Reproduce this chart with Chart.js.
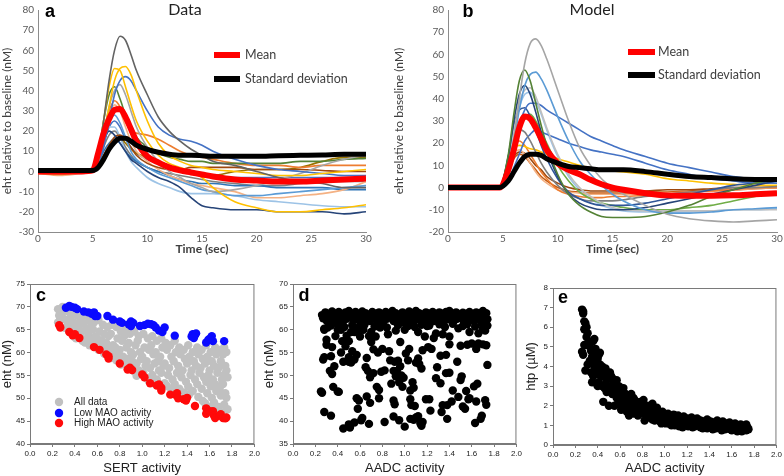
<!DOCTYPE html>
<html>
<head>
<meta charset="utf-8">
<script src="https://cdn.jsdelivr.net/npm/chart.js@4.4.1/dist/chart.umd.min.js"></script>
<style>
body { margin: 0; background: #fff; width: 784px; height: 476px; position: relative; overflow: hidden; }
canvas { position: absolute; }
</style>
</head>
<body>
<canvas id="pa" width="392" height="256" style="left:0;top:0"></canvas>
<canvas id="pb" width="392" height="256" style="left:392px;top:0"></canvas>
<canvas id="pc" width="262" height="214" style="left:0;top:262px"></canvas>
<canvas id="pd" width="262" height="214" style="left:262px;top:262px"></canvas>
<canvas id="pe" width="260" height="214" style="left:524px;top:262px"></canvas>
<script>
// ---- panel a: measured traces (time in sec, eht in nM) ----
var timeA = [0,2,4,5,5.5,6,6.5,7,7.5,8,8.5,9,10,11,12,13,14,15,16,18,20,22,24,26,28,30];
var meanA = [0,0,0,0.5, 9,19,26,30.5,31,27,21,15, 7.5,4.5,2,0.5,-0.5,-1.5,-2.5, -4,-4.5,-5,-5,-4.5,-4,-3.5];
var stdA  = [0.5,0.5,0.5,0.5, 2,6,11,14.5,16.5,16.5,15,13, 11,9.5,8.5,8,8,7.8,7.5, 7.5,7.5,7.8,8,8.2,8.5,8.5];
var tracesA = [
  [0.5,0,0.5,0, 8,25,45,60,67,65,58,50, 38,27,20,15,11,8,5, 3,0,-3,-5,-6,-8,-8],
  [0,-0.5,0,0, 8,25,42,51,50,42,33,25, 15,8,4,2,0,-3,-8, -15,-18,-20,-20,-19,-18,-16.5],
  [0,0,0.5,0, 5,18,32,45,51,52,48,40, 25,14,8,5,3,2,1, 0,-1,-2,-2,-1,0,1],
  [0.5,0.5,0,0, 4,12,25,38,45,47,45,40, 30,22,18,16,15,13,10, 6,3,1,0,-1,-2,-2],
  [0,0.5,0,0, 5,18,32,40,43,38,30,22, 12,5,0,-3,-6,-8,-10, -9,-7,-4,-1,3,6,8],
  [0,0,0,0, 8,25,38,42,36,28,22,17, 12,9,7,6,5,5,4, 4,4,4,5,5,6,6.5],
  [-1,-1.5,-0.5,0, 6,20,30,35,32,25,20,19, 18,16,13,10,8,7,6, 4,3,3,2,3,3,3],
  [0,0,-0.5,0, 5,15,24,28,24,17,10,6, 2,-1,-3,-5,-7,-9,-10, -12,-12,-11,-10,-9,-8,-7],
  [1,0.5,0,0, 6,15,20,18,14,10,6,4, 0,-3,-5,-8,-13,-17,-18, -19,-19,-20,-20,-20,-21,-20],
  [0,0,0,0, 3,8,13,17,18,16,12,8, 4,2,1,1,2,2,2, 2,1,1,1,0.5,0,0],
  [-1,-2,-1,0, 5,18,28,33,30,22,15,10, 5,1,-2,-4,-6,-7,-8, -10,-13,-13,-12,-11,-9,-5],
  [0,0,0,0, 6,16,22,22,17,10,5,2, -3,-6,-8,-10,-11,-11,-11, -12,-14,-15,-16,-17,-17.5,-17.5],
  [1,0.5,0.5,0, 4,10,14,16,14,10,7,5, 2,0,-2,-4,-5,-6,-6, -7,-7,-8,-8,-8,-9,-9],
  [0,0,0,0, 3,8,12,15,17,14,11,9, 7,5,3,0,-1,-2,-2, 0,1,1,2,5,7,7],
  [0,0,0,0, 4,12,18,20,17,12,8,5, 2,0,-1,-2,-3,-4,-5, -6,-7,-7,-6,-5,-5,-5],
  [0,0,0,0, 5,14,22,25,22,16,12,9, 6,4,2,1,0,-1,-2, -3,-3,-3,-3,-3,-3,-3]
];
var colorsA = ['#636363','#ffc000','#ffc000','#4472c4','#a5a5a5','#548235','#ed7d31','#5b9bd5',
               '#264478','#9e480e','#f4b183','#9dc3e6','#2e75b6','#997300','#7f7f7f','#4472c4'];

// ---- panel b: model traces ----
var timeB = [0,2,4,4.7,5.5,6,6.5,7,7.5,8,8.5,9,10,11,12,13,14,15,16,18,20,22,24,26,28,30];
var meanB = [0,0,0,0, 8,17,27,32,31,27,22,17, 11,8,6,3.5,1.5,0,-1, -2.5,-3.5,-3.7,-3.7,-3.5,-3,-2.5];
var stdB  = [0,0,0,0, 3,7,11,14,15,15,14.5,13, 11,9.5,9,8.5,8,8,8, 7.2,6,5,4.5,4,3.7,3.6];
var tracesB = [
  [0,0,0,0, 8,22,40,56,65,67,64,58, 44,30,18,10,4,0,-3, -8,-12,-14,-15,-15.5,-15,-14.5],
  [0,0,0,0, 15,33,48,53,48,38,28,19, 6,-3,-8,-11,-13,-13.5,-13.5, -13,-11,-8,-4,-1,2,4],
  [0,0,0,0, 7,20,35,46,51,52,49,44, 32,21,12,6,1,-3,-6, -10,-11.5,-11.5,-11,-10,-9.5,-9],
  [0,0,0,0, 14,30,42,46,42,34,25,17, 5,-3,-7,-9,-10,-10,-10, -9,-7,-5,-3,-1,1,3],
  [0,0,0,0, 10,25,38,44,45,41,34,27, 15,6,0,-4,-7,-9,-10, -10.5,-10.5,-10.5,-10.5,-10,-10,-10],
  [0,0,0,0, 6,17,28,35,38,38,37,35, 32,29,26,23,21,19,17, 14,11,9,7,5,4,3],
  [0,0,0,0, 14,28,35,36,32,26,19,13, 4,-2,-5,-7,-8,-8,-8, -7,-5,-3,-1,1,2,3],
  [0,0,0,0, 7,18,27,32,33,30,25,20, 10,3,-2,-5,-7,-8,-9, -10,-10,-9,-8,-6,-4,-2],
  [0,0,0,0, 12,22,26,25,21,16,11,7, 1,-3,-5,-6,-6,-6,-5.5, -4,-3,-2,-1,0,0,0.5],
  [0,0,0,0, 3,9,15,21,24,26,25,24, 22,20,18.5,17,16,15,14, 11,8,6,4,3,2,2],
  [0,0,0,0, 12,18,19,18.5,17.5,17,16,15, 13,11.5,10,9,8,7.5,7, 6,4,3,2,1.5,1,1],
  [0,0,0,0, 10,18,21,19,15,11,7,4, -1,-3,-4,-4.5,-4.5,-4,-4, -3.5,-3,-2,-1.5,-1,0,0],
  [0,0,0,0, 11,16,17,15,11,7,4,2, -1,-2,-2.5,-3,-3,-3,-3, -3,-2.5,-2,-1.5,-1,-0.5,0],
  [0,0,0,0, 9,14,16,15.5,13,10,8,5, 2,0,-1,-1.5,-1.5,-1.5,-1.5, -1.5,-1,-1,-0.5,0,0,0.5],
  [0,0,0,0, 9,25,36,42,43,39,33,26, 14,5,-1,-5,-8,-9.5,-10.5, -11,-11,-11,-10.5,-10,-10,-9.5],
  [0,0,0,0, 8,13,15,14,11,8,5,3, 0,-1.5,-2,-2.5,-2.5,-2.5,-2.5, -2,-2,-1.5,-1,-1,-0.5,0]
];
var colorsB = ['#a5a5a5','#548235','#5b9bd5','#264478','#bfbfbf','#4472c4','#2f5597','#70ad47',
               '#7f7f7f','#4472c4','#ffc000','#ed7d31','#f4b183','#9e480e','#9dc3e6','#c55a11'];

// ---- panel c: SERT activity vs eht ----
var cLowMao = [[0.32,69.8],[0.35,70.2],[0.37,70],[0.4,69.8],[0.42,69.5],[0.48,69],[0.52,68.8],[0.55,68.5],
  [0.57,68.8],[0.58,68],[0.6,68],[0.69,68],[0.74,67.2],[0.8,66.8],[0.82,66.5],[0.88,66.2],[0.9,66.8],
  [0.92,66.5],[0.9,65.8],[0.98,65.8],[1.02,66],[1.05,66.3],[1.08,66.2],[1.1,66],[1.12,65.5],[1.15,64.8],
  [1.18,64.5],[1.2,65.5],[1.29,63.7],[1.44,63.5],[1.45,64],[1.47,63.8],[1.48,64.2],[1.46,63.2],[1.57,62.2],
  [1.59,62.8],[1.62,63.6],[1.63,62.5],[1.6,63],[1.73,62.5]];
var cHighMao = [[0.26,66],[0.27,65.5],[0.35,64.5],[0.38,63.8],[0.4,64],[0.44,63.2],[0.57,61.2],[0.62,60.6],
  [0.68,59.6],[0.7,59.2],[0.7,58.7],[0.8,57.6],[0.87,56.3],[0.89,56.7],[0.91,56.2],[1.0,55.2],[1.02,54.6],
  [1.07,53.3],[1.13,52.8],[1.15,53],[1.17,52.3],[1.17,51.7],[1.25,50.8],[1.3,50.7],[1.31,51.1],[1.32,50],
  [1.37,49.8],[1.39,49.5],[1.4,50.1],[1.47,48.3],[1.57,47.8],[1.57,46.6],[1.6,47.2],[1.63,47.2],[1.64,46.2],
  [1.65,45.7],[1.69,46.2],[1.7,46.5],[1.72,45.7],[1.74,45.6],[1.75,45.8]];
var cAll = [[0.25,69.5],[0.26,68.1],[0.27,67.2],[0.25,66.6],[0.29,70],[0.28,68.7],[0.3,67.4],[0.31,65.4],
  [0.33,69.1],[0.32,67.1],[0.34,66.2],[0.35,64.6],[0.37,68.6],[0.36,67.6],[0.38,66.1],[0.37,65.1],[0.39,63.5],
  [0.41,68.2],[0.4,66.5],[0.42,65.6],[0.43,64.1],[0.41,63.1],[0.45,67.6],[0.44,66.1],[0.46,64.6],[0.45,63.6],
  [0.47,62.5],[0.49,68.1],[0.48,66.4],[0.5,65.1],[0.51,63.1],[0.49,62.2],[0.53,67.1],[0.54,65.6],[0.52,64.1],
  [0.55,62.6],[0.53,61.6],[0.57,66.6],[0.56,65.1],[0.58,63.5],[0.59,62.1],[0.57,61.3],[0.61,67.1],[0.62,64.6],
  [0.6,63.1],[0.63,61.6],[0.61,60.6],[0.65,66.1],[0.66,64.1],[0.64,62.6],[0.67,61.1],[0.66,59.8],[0.69,65.6],
  [0.7,63.6],[0.68,62.1],[0.71,60.6],[0.73,66.1],[0.72,64.1],[0.74,61.6],[0.75,60.1],[0.73,58.8],[0.77,65.6],
  [0.78,63.1],[0.76,61.1],[0.79,59.6],[0.77,58.3],[0.81,64.6],[0.82,62.6],[0.8,60.6],[0.83,59.1],[0.81,57.4],
  [0.85,65.1],[0.84,63.6],[0.86,61.1],[0.87,58.6],[0.85,57.6],[0.89,64.1],[0.88,62.1],[0.9,60.1],[0.91,58.1],
  [0.89,56.9],[0.93,64.6],[0.94,61.6],[0.92,59.6],[0.95,57.6],[0.93,55.9],[0.97,63.6],[0.96,62.6],[0.98,60.1],
  [0.99,58.6],[0.97,56.1],[0.95,54.9],[1.01,64.1],[1.02,61.1],[1.0,59.1],[1.03,57.1],[1.01,55.6],[1.04,54.3],
  [1.05,63.1],[1.06,60.6],[1.04,58.1],[1.07,56.6],[1.06,53.8],[1.09,63.6],[1.08,61.6],[1.1,59.6],[1.11,57.6],
  [1.09,55.1],[1.1,53.3],[1.13,62.6],[1.12,60.1],[1.14,58.1],[1.15,56.1],[1.13,54.1],[1.17,63.1],[1.18,61.1],
  [1.16,59.1],[1.19,57.1],[1.17,55.6],[1.2,53.3],[1.21,62.1],[1.22,60.6],[1.2,57.6],[1.23,55.1],[1.22,52.7],
  [1.25,61.6],[1.26,59.1],[1.24,56.6],[1.27,54.1],[1.26,51.8],[1.29,62.6],[1.3,60.1],[1.28,58.1],[1.31,55.6],
  [1.29,53.1],[1.3,51.6],[1.33,61.1],[1.34,59.6],[1.32,57.1],[1.35,54.6],[1.33,52.1],[1.37,60.6],[1.38,58.6],
  [1.36,56.1],[1.39,53.6],[1.37,51.3],[1.41,61.6],[1.42,59.1],[1.4,57.6],[1.43,55.1],[1.41,52.6],[1.42,50.9],
  [1.45,60.1],[1.46,58.1],[1.44,56.1],[1.47,54.1],[1.45,51.6],[1.49,61.1],[1.5,59.6],[1.48,57.1],[1.51,55.6],
  [1.49,53.1],[1.5,50.3],[1.53,60.6],[1.54,58.6],[1.52,56.6],[1.55,54.6],[1.53,52.1],[1.54,49.4],[1.57,61.6],
  [1.58,59.1],[1.56,57.6],[1.59,55.1],[1.57,53.6],[1.58,51.1],[1.56,48.9],[1.61,60.1],[1.62,58.1],[1.6,56.1],
  [1.63,54.1],[1.61,52.6],[1.62,50.1],[1.6,48.1],[1.65,61.1],[1.66,59.6],[1.64,57.1],[1.67,55.6],[1.65,53.1],
  [1.66,51.6],[1.64,49.1],[1.65,47.6],[1.69,60.6],[1.7,58.1],[1.68,56.6],[1.71,54.1],[1.69,52.1],[1.7,50.6],
  [1.68,48.1],[1.73,61.1],[1.72,59.6],[1.74,57.1],[1.73,55.1],[1.72,53.1],[1.74,51.1],[1.73,48.6],[1.72,46.9],
  [1.75,60.1],[1.75,56.1],[1.76,54.6],[1.75,50.1],[1.76,47.6]];

// ---- panel d: AADC activity vs eht ----
var dPoints = [
  [0.26,63.2],[0.29,63.8],[0.32,63.4],[0.35,64],[0.38,63.5],[0.41,63.9],[0.44,63.3],[0.47,63.8],[0.5,64.1],
  [0.53,63.5],[0.56,63.9],[0.59,63.4],[0.62,64],[0.65,63.6],[0.68,63.2],[0.71,63.9],[0.74,63.5],[0.77,63.8],
  [0.8,63.3],[0.83,63.9],[0.86,63.5],[0.89,64.1],[0.92,63.6],[0.95,63.2],[0.98,63.8],[1.01,63.4],[1.04,64],
  [1.07,63.5],[1.1,64.1],[1.13,63.6],[1.16,63.2],[1.19,63.8],[1.22,63.5],[1.25,63.9],[1.28,63.3],[1.31,63.8],
  [1.34,63.5],[1.37,63.9],[1.4,64.1],[1.43,63.4],[1.46,63.8],[1.49,63.3],[1.52,63.7],[1.55,63.5],[1.58,63.9],
  [1.61,63.4],[1.64,63.8],[1.67,63.3],[1.7,64.1],[1.73,63.6],
  [0.27,62.5],[0.3,62],[0.33,62.6],[0.36,61.8],[0.39,62.3],[0.42,62.8],[0.45,61.9],[0.48,62.4],[0.51,62.9],
  [0.54,62.1],[0.57,62.6],[0.6,61.7],[0.63,62.4],[0.66,62.8],[0.69,61.9],[0.72,62.5],[0.75,62.1],[0.78,62.7],
  [0.81,61.8],[0.84,62.4],[0.87,62.8],[0.9,61.9],[0.93,62.3],[0.96,62.7],[0.99,61.6],[1.02,62.2],[1.05,62.6],
  [1.08,61.8],[1.11,62.3],[1.14,62.7],[1.17,61.7],[1.2,62.2],[1.23,62.6],[1.26,61.9],[1.29,62.4],[1.32,62.8],
  [1.35,61.8],[1.38,62.3],[1.41,62.7],[1.44,61.9],[1.47,62.4],[1.5,62.8],[1.53,61.8],[1.56,62.3],[1.59,62.6],
  [1.62,61.9],[1.65,62.4],[1.68,62.8],[1.71,61.8],[1.74,62.3],
  [0.28,60.2],[0.34,60.9],[0.4,61.2],[0.46,60.6],[0.53,61],[0.58,60.4],[0.64,61.1],[0.73,60.7],[0.79,61.3],
  [0.84,60.5],[0.94,61],[1.03,60.8],[1.06,61.4],[1.09,60.6],[1.15,61.1],[1.22,60.9],[1.31,61.2],[1.36,60.6],
  [1.43,61.3],[1.52,60.8],[1.56,61.2],[1.63,60.7],[1.69,61.4],[1.74,60.9],
  [0.31,60.5],[0.43,60],[0.52,59.5],[0.63,60],[0.7,59.5],[0.78,60.5],[0.85,59],[0.92,59.8],[1.0,60],
  [1.12,59.5],[1.2,60.8],[1.28,59.2],[1.34,59],[1.4,58.5],[1.48,60.3],[1.58,59.5],[1.66,59.2],[1.7,60.2],
  [0.25,46.5],[0.26,46.2],[0.28,42],[0.34,41.2],[0.27,53.5],[0.28,54],[0.3,57.8],[0.3,56.7],[0.28,60],
  [0.33,51],[0.35,50.3],[0.34,54.2],[0.35,56.2],[0.37,52],[0.36,47.5],[0.4,46.5],[0.41,46.4],
  [0.38,58.6],[0.4,60],[0.43,55],[0.44,57.5],[0.45,53],[0.47,56.4],[0.48,58.7],[0.5,57.5],[0.5,53],
  [0.52,52.8],[0.53,55.3],[0.5,54],[0.55,53.5],[0.57,54.5],[0.55,59.5],[0.58,60],[0.6,58.5],
  [0.45,38.4],[0.5,39.3],[0.51,38.6],[0.55,39.7],[0.58,42.7],[0.57,45],[0.59,44.5],[0.62,40.7],[0.61,40.2],
  [0.66,45.4],[0.68,39.4],[0.69,44],[0.65,51.8],[0.66,53.8],[0.67,51],[0.69,49.6],[0.72,50.5],[0.72,55.7],
  [0.7,57.3],[0.68,58.6],[0.74,58.5],[0.75,47.5],[0.77,46.8],[0.77,45],[0.79,50.8],[0.76,55],[0.8,55.8],
  [0.82,51.1],[0.82,39.8],[0.86,55.3],[0.87,53.3],[0.88,48.2],[0.9,51],[0.91,53],[0.9,44.5],[0.91,43.7],
  [0.9,41],[0.92,49.8],[0.93,51],[0.94,53.2],[0.95,48.5],[0.97,50],[0.96,52],[0.98,47.5],[0.99,49.5],
  [0.95,40.2],[1.0,38.8],[0.96,57.3],[1.01,54.8],[1.03,53.3],[1.04,55.8],[1.05,44.8],[1.06,43.5],[1.05,46.7],
  [1.07,48.5],[1.08,47.3],[1.09,43.3],[1.05,40.5],[1.08,40.3],[1.1,40.8],[1.12,41.1],[1.14,39.5],[1.15,39],
  [1.16,39.8],[1.1,52.8],[1.12,53.7],[1.13,52.5],[1.15,51.5],[1.16,55.5],[1.18,58.5],[1.19,44.8],[1.22,44.8],
  [1.23,42.3],[1.21,56.2],[1.24,55.8],[1.26,58.2],[1.28,49.4],[1.29,51.8],[1.32,48.3],[1.32,54.3],[1.33,42],
  [1.34,43.5],[1.37,50.5],[1.37,54.5],[1.38,40.5],[1.38,43.5],[1.4,50.6],[1.4,56.8],[1.42,44.3],[1.43,46.7],
  [1.47,53],[1.48,45.3],[1.5,49],[1.5,56.5],[1.51,49.8],[1.52,43.2],[1.54,42.7],[1.55,46.6],[1.56,56.7],
  [1.57,44.8],[1.58,45],[1.6,57],[1.62,47.6],[1.63,39.6],[1.64,44.3],[1.65,48.2],[1.64,55.8],[1.66,57],
  [1.68,40.5],[1.69,41.2],[1.7,56.8],[1.72,44.6],[1.73,43.6],[1.73,56.6],[1.74,52.3],[1.72,59.8]];

// ---- panel e: AADC activity vs htp ----
var ePoints = [[0.26,6.9],[0.27,6.8],[0.27,6.7],[0.28,6.3],[0.29,6.2],[0.28,5.9],[0.3,5.5],[0.26,4.75],
  [0.27,4.6],[0.28,5.1],[0.3,5.1],[0.32,5.2],[0.33,5.0],[0.29,3.8],[0.31,4.1],[0.33,4.3],[0.34,3.7],[0.35,3.2],
  [0.36,3.5],[0.37,5.4],[0.36,5.3],[0.38,4.9],[0.39,4.7],[0.4,4.4],[0.41,4.6],[0.42,4.1],[0.4,3.0],[0.41,3.2],
  [0.43,3.8],[0.44,4.0],[0.45,2.2],[0.46,3.5],[0.47,3.9],[0.48,3.3],[0.49,3.6],[0.5,2.0],[0.51,3.7],[0.52,3.0],
  [0.53,3.4],[0.54,2.9],[0.55,2.0],[0.56,2.6],[0.57,3.3],[0.58,2.1],[0.59,3.0],[0.6,2.8],[0.61,1.8],[0.62,2.4],
  [0.63,2.9],[0.64,2.2],[0.65,2.6],[0.66,1.7],[0.67,2.4],[0.68,1.5],[0.69,2.0],[0.7,2.6],[0.71,2.1],[0.72,1.9],
  [0.73,2.3],[0.74,1.8],[0.75,2.1],[0.77,1.7],[0.78,2.2],[0.8,1.9],[0.81,2.3],[0.82,1.25],[0.83,1.6],[0.84,2.0],
  [0.86,1.8],[0.88,1.5],[0.89,2.1],[0.9,1.7],[0.92,1.4],[0.93,1.9],[0.95,1.6],[0.96,1.2],[0.98,1.7],[1.0,1.4],
  [1.01,1.1],[1.03,1.6],[1.05,1.3],[1.06,1.0],[1.08,1.55],[1.1,1.2],[1.12,1.5],[1.13,0.95],[1.15,1.3],[1.17,1.45],
  [1.18,1.0],[1.2,1.35],[1.22,1.1],[1.24,1.4],[1.25,0.9],[1.27,1.2],[1.29,1.35],[1.3,1.0],[1.32,1.25],[1.34,0.85],
  [1.36,1.15],[1.38,1.3],[1.4,0.95],[1.41,1.2],[1.43,0.8],[1.45,1.1],[1.47,1.25],[1.49,0.9],[1.5,1.05],[1.52,1.2],
  [1.54,0.8],[1.56,1.0],[1.58,1.15],[1.6,0.75],[1.61,0.95],[1.63,1.1],[1.65,0.7],[1.66,0.9],[1.68,1.05],[1.7,0.8],
  [1.72,1.0],[1.73,0.75],[1.74,0.9],[1.74,0.85],[0.45,3.9],[0.5,3.4],[0.55,3.1],[0.6,2.5],[0.65,2.3],[0.7,2.2],
  [0.75,1.9],[0.85,1.7],[0.95,1.45],[1.05,1.4],[1.15,1.2],[1.25,1.15],[1.35,1.05],[1.45,1.0],[1.55,0.95],
  [1.65,0.85],[0.38,4.2],[0.42,4.7],[0.47,3.1],[0.53,2.6],[0.58,2.7],[0.62,2.0],[0.72,2.4],[0.79,1.6],
  [0.91,1.25],[1.02,1.25],[1.11,1.05],[1.21,0.95],[1.33,0.95],[1.44,0.85],[1.57,0.85],[1.69,0.7],
  [0.3,6.0],[0.31,5.7],[0.34,4.8],[0.35,4.5],[0.37,4.0],[0.39,3.9],[0.4,3.6],[0.43,3.5],[0.44,3.0],[0.46,2.9],
  [0.48,2.7],[0.5,2.9],[0.52,3.5],[0.54,3.3],[0.56,3.0],[0.57,2.4],[0.59,2.3],[0.61,2.6],[0.63,2.5],[0.64,1.9],
  [0.66,2.1],[0.68,2.3],[0.7,1.8],[0.72,1.6],[0.74,2.2],[0.76,1.5],[0.77,2.0],[0.79,2.0],[0.82,1.8],[0.84,1.5],
  [0.86,1.4],[0.87,2.0],[0.89,1.3],[0.9,1.5],[0.92,1.7],[0.94,1.3],[0.96,1.5],[0.97,1.1],[0.99,1.6],[1.0,1.2],
  [1.03,1.3],[1.04,1.1],[1.06,1.4],[1.07,1.2],[1.09,1.0],[1.1,1.4],[1.13,1.3],[1.14,1.1],[1.16,0.9],[1.18,1.3],
  [1.19,1.2],[1.22,1.3],[1.23,1.0],[1.26,1.3],[1.27,0.95],[1.28,1.1],[1.31,1.15],[1.32,0.9],[1.35,1.2],[1.37,1.0],
  [1.38,0.85],[1.4,1.1],[1.42,1.0],[1.44,1.15],[1.46,0.85],[1.48,1.05],[1.5,0.9],[1.51,0.75],[1.53,1.0],[1.55,1.1],
  [1.57,0.95],[1.59,0.8],[1.6,1.05],[1.62,0.85],[1.64,0.95],[1.66,0.75],[1.67,1.0],[1.69,0.9],[1.71,0.8],[1.72,0.95],
  [1.73,1.05],[1.75,0.8]];

// draws panel letters, titles, in-plot keys and the box frame
var extras = {
  id: 'extras',
  afterDraw: function (chart, args, o) {
    var ctx = chart.ctx, a = chart.chartArea;
    ctx.save();
    if (o.frame) {
      ctx.strokeStyle = o.frame;
      ctx.lineWidth = 1;
      ctx.strokeRect(a.left + 0.5, a.top + 0.5, a.right - a.left - 1, a.bottom - a.top - 1);
    }
    (o.keys || []).forEach(function (k) {
      ctx.fillStyle = k.color;
      ctx.strokeStyle = k.color;
      if (k.dot) {
        ctx.beginPath();
        ctx.arc(k.x, k.y, k.dot, 0, Math.PI * 2);
        ctx.fill();
      } else {
        ctx.lineWidth = k.width;
        ctx.beginPath();
        ctx.moveTo(k.x, k.y);
        ctx.lineTo(k.x2, k.y);
        ctx.stroke();
      }
      ctx.fillStyle = k.textColor;
      ctx.font = k.font;
      ctx.textAlign = 'left';
      ctx.textBaseline = 'middle';
      ctx.fillText(k.label, k.tx, k.y);
    });
    (o.texts || []).forEach(function (t) {
      ctx.fillStyle = t.color || '#000';
      ctx.font = t.font;
      ctx.textAlign = 'center';
      ctx.textBaseline = 'middle';
      ctx.fillText(t.text, t.x, t.y);
    });
    ctx.restore();
  }
};
Chart.register(extras);

var excelFont = 'Lato, "Open Sans", sans-serif';
var arialFont = '"Liberation Sans", Arial, sans-serif';

function traceSets(mean, std, traces, colors, time) {
  var pts = function (arr) { return arr.map(function (v, i) { return { x: time[i], y: v }; }); };
  var sets = [
    { data: pts(std), borderColor: '#000', borderWidth: 5 },
    { data: pts(mean), borderColor: '#ff0000', borderWidth: 6 }
  ];
  traces.forEach(function (tr, i) {
    sets.push({ data: pts(tr), borderColor: colors[i], borderWidth: 1.6 });
  });
  return sets;
}

function traceChart(id, sets, yMin, yMax, yWidth, padTop, padRight, letter, title, keys) {
  return new Chart(document.getElementById(id), {
    type: 'line',
    data: { datasets: sets },
    options: {
      responsive: false, animation: false, devicePixelRatio: 1,
      layout: { autoPadding: false, padding: { left: 0, top: padTop, right: padRight, bottom: 0 } },
      elements: { point: { radius: 0 }, line: { cubicInterpolationMode: 'monotone', fill: false } },
      plugins: {
        legend: { display: false }, tooltip: { enabled: false },
        extras: { texts: [letter, title], keys: keys }
      },
      scales: {
        x: {
          type: 'linear', min: 0, max: 30,
          ticks: { stepSize: 5, color: '#595959', font: { family: excelFont, size: 10 }, padding: 1, maxRotation: 0 },
          grid: { display: false, drawTicks: false },
          border: { color: '#8c8c8c', width: 1 },
          title: { display: true, text: 'Time (sec)', color: '#404040', font: { family: excelFont, size: 12, weight: 'bold' }, padding: 0 },
          afterFit: function (s) { s.height = 24; }
        },
        y: {
          min: yMin, max: yMax,
          ticks: { stepSize: 10, color: '#595959', font: { family: excelFont, size: 10 }, padding: 4 },
          grid: { display: false, drawTicks: false },
          border: { color: '#8c8c8c', width: 1 },
          title: { display: true, text: 'eht relative to baseline (nM)', color: '#404040', font: { family: excelFont, size: 12 }, padding: 0 },
          afterFit: function (s) { s.width = yWidth; }
        }
      }
    }
  });
}

function legendKeys(x, x2, tx, y1, y2) {
  var f = '12.5px ' + excelFont;
  return [
    { label: 'Mean', color: '#ff0000', width: 6, x: x, x2: x2, y: y1, tx: tx, font: f, textColor: '#404040' },
    { label: 'Standard deviation', color: '#000', width: 6, x: x, x2: x2, y: y2, tx: tx, font: f, textColor: '#404040' }
  ];
}

traceChart('pa', traceSets(meanA, stdA, tracesA, colorsA, timeA), -30, 80, 38, 4, 26,
  { text: 'a', x: 50, y: 12, font: 'bold 18px ' + arialFont },
  { text: 'Data', x: 185, y: 10, font: '16px ' + excelFont, color: '#222' },
  legendKeys(214, 240, 245, 55, 79));

traceChart('pb', traceSets(meanB, stdB, tracesB, colorsB, timeB), -20, 80, 56, 3, 7,
  { text: 'b', x: 76, y: 12, font: 'bold 18px ' + arialFont },
  { text: 'Model', x: 200, y: 10, font: '16px ' + excelFont, color: '#222' },
  legendKeys(236, 263, 266, 52, 75));

function xy(list) { return list.map(function (p) { return { x: p[0], y: p[1] }; }); }

function scatterChart(id, sets, yMin, yMax, yStep, yTitle, xTitle, yWidth, padTop, padRight, xHeight, letter, keys) {
  return new Chart(document.getElementById(id), {
    type: 'scatter',
    data: { datasets: sets },
    options: {
      responsive: false, animation: false, devicePixelRatio: 1,
      layout: { autoPadding: false, padding: { left: 0, top: padTop, right: padRight, bottom: 0 } },
      elements: { point: { borderWidth: 0 } },
      plugins: {
        legend: { display: false }, tooltip: { enabled: false },
        extras: { frame: '#7a7a7a', texts: [letter], keys: keys || [] }
      },
      scales: {
        x: {
          min: 0, max: 2,
          ticks: { stepSize: 0.2, color: '#222', font: { family: arialFont, size: 8 }, padding: 2, maxRotation: 0,
                   callback: function (v) { return v.toFixed(1); } },
          grid: { drawOnChartArea: false, drawTicks: true, tickLength: 3, color: '#7a7a7a' },
          border: { color: '#7a7a7a' },
          title: { display: true, text: xTitle, color: '#222', font: { family: arialFont, size: 13 }, padding: 0 },
          afterFit: function (s) { s.height = xHeight; }
        },
        y: {
          min: yMin, max: yMax,
          ticks: { stepSize: yStep, color: '#222', font: { family: arialFont, size: 8 }, padding: 2 },
          grid: { drawOnChartArea: false, drawTicks: true, tickLength: 3, color: '#7a7a7a' },
          border: { color: '#7a7a7a' },
          title: { display: true, text: yTitle, color: '#222', font: { family: arialFont, size: 13 }, padding: 0 },
          afterFit: function (s) { s.width = yWidth; }
        }
      }
    }
  });
}

var legendFont = '10px ' + arialFont;
scatterChart('pc', [
    { data: xy(cLowMao), backgroundColor: '#0a0aff', pointRadius: 4.2 },
    { data: xy(cHighMao), backgroundColor: '#ff0a0a', pointRadius: 4.2 },
    { data: xy(cAll), backgroundColor: '#c0c0c0', pointRadius: 4.2 }
  ], 40, 75, 5, 'eht (nM)', 'SERT activity', 30, 22, 2, 32,
  { text: 'c', x: 41, y: 34, font: 'bold 18px ' + arialFont },
  [
    { label: 'All data', color: '#c0c0c0', dot: 4.2, x: 59, y: 140, tx: 74, font: legendFont, textColor: '#222' },
    { label: 'Low MAO activity', color: '#0a0aff', dot: 4.2, x: 59, y: 151, tx: 74, font: legendFont, textColor: '#222' },
    { label: 'High MAO activity', color: '#ff0a0a', dot: 4.2, x: 59, y: 161, tx: 74, font: legendFont, textColor: '#222' }
  ]);

scatterChart('pd', [
    { data: xy(dPoints), backgroundColor: '#000', pointRadius: 4.2 }
  ], 35, 70, 5, 'eht (nM)', 'AADC activity', 31, 22, 2, 32,
  { text: 'd', x: 42, y: 34, font: 'bold 18px ' + arialFont });

scatterChart('pe', [
    { data: xy(ePoints), backgroundColor: '#000', pointRadius: 4.2 }
  ], 0, 8, 1, 'htp (\u00b5M)', 'AADC activity', 29, 26, 6, 31,
  { text: 'e', x: 39, y: 36, font: 'bold 18px ' + arialFont });
</script>
</body>
</html>
